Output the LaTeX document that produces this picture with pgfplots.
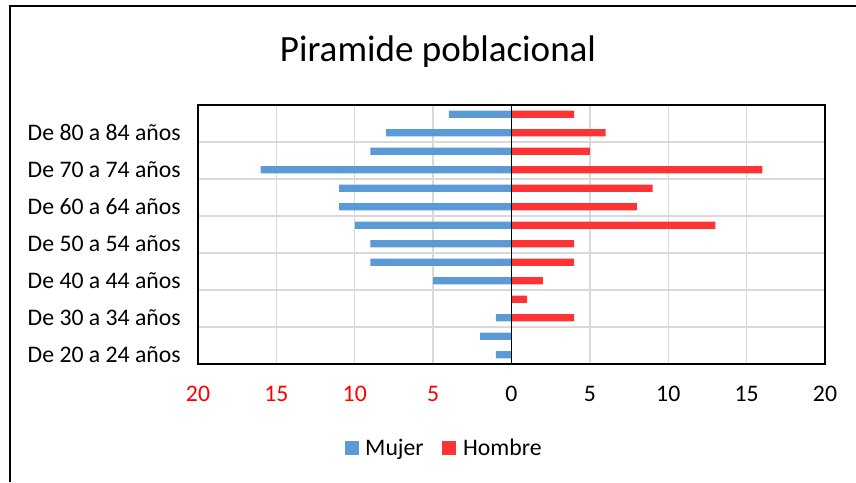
\documentclass[border=0pt]{standalone}
\usepackage{pgfplots}
\pgfplotsset{compat=1.18}
\usepackage{fontspec}
\setmainfont{Carlito}
\definecolor{mujer}{HTML}{5B9BD5}
\definecolor{hombre}{HTML}{FF3333}
\definecolor{gridc}{HTML}{D9D9D9}
\begin{document}
\begin{tikzpicture}
\begin{scope}[x=0.75pt,y=-0.75pt]
\useasboundingbox (0,0) rectangle (856,482);
\draw[line width=1.5pt] (10,482) -- (10,6) -- (856,6);
\node[anchor=base, inner sep=0pt, font=\fontsize{27.8}{33}\selectfont] at (438,61.7) {Piramide poblacional};
\coordinate (A) at (198,364);
\end{scope}
\begin{axis}[
  at={(A)}, anchor=south west,
  scale only axis, width=470.25pt, height=194.25pt,
  xmin=-20, xmax=20, ymin=-0.5, ymax=13.5,
  xbar, bar width=5.5pt, bar shift=0pt,
  xtick={-20,-15,...,20},
  xticklabels={\textcolor{red}{20},\textcolor{red}{15},\textcolor{red}{10},\textcolor{red}{5},0,5,10,15,20},
  ytick={0,2,...,12},
  yticklabels={De 20 a 24 años,De 30 a 34 años,De 40 a 44 años,De 50 a 54 años,De 60 a 64 años,De 70 a 74 años,De 80 a 84 años},
  minor ytick={1.5,3.5,...,11.5},
  yminorgrids, xmajorgrids,
  grid style={gridc, line width=1.1pt},
  minor grid style={gridc, line width=1.1pt},
  major tick length=0pt, minor tick length=0pt,
  axis line style={line width=1pt, black},
  tick label style={font=\fontsize{17.8}{21}\selectfont},
  yticklabel style={anchor=east, inner sep=0pt},
  xticklabel style={anchor=north, inner sep=0pt},
  yticklabel shift=12.75pt, xticklabel shift=16.5pt,
  legend columns=2,
  legend style={at={(0.393,-0.324)}, anchor=center, draw=none, fill=none,
    font=\fontsize{17.8}{21}\selectfont,
    /tikz/every odd column/.append style={column sep=3pt},
    /tikz/every even column/.append style={column sep=12pt}},
]
\addplot[fill=mujer, draw=none, legend image code/.code={\fill[mujer] (0pt,-5.25pt) rectangle (10.5pt,5.25pt);}]
  coordinates {(-1,0) (-2,1) (-1,2) (0,3) (-5,4) (-9,5) (-9,6) (-10,7) (-11,8) (-11,9) (-16,10) (-9,11) (-8,12) (-4,13)};
\addlegendentry{Mujer}
\addplot[fill=hombre, draw=none, legend image code/.code={\fill[hombre] (0pt,-5.25pt) rectangle (10.5pt,5.25pt);}]
  coordinates {(0,0) (0,1) (4,2) (1,3) (2,4) (4,5) (4,6) (13,7) (8,8) (9,9) (16,10) (5,11) (6,12) (4,13)};
\addlegendentry{Hombre}
\draw[black, line width=1pt] (axis cs:0,-0.5) -- (axis cs:0,13.5);
\end{axis}
\end{tikzpicture}
\end{document}
